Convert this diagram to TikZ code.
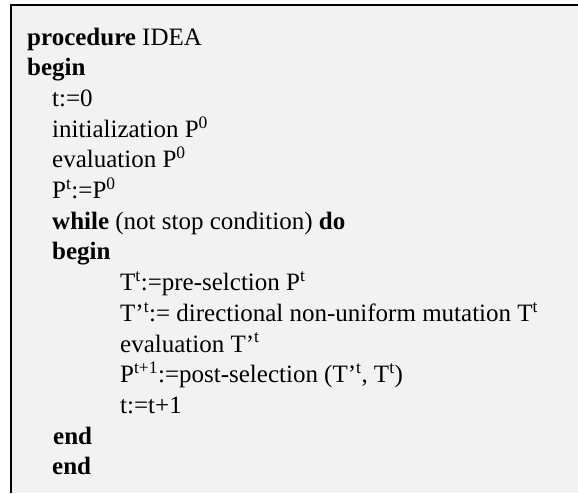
\documentclass[tikz,border=0pt]{standalone}
\usepackage{fontspec}
\setmainfont{Liberation Serif}
\definecolor{panelgray}{HTML}{F2F2F2}
\newcommand{\sps}[1]{\textsuperscript{#1}}
\begin{document}
\begin{tikzpicture}[x=1pt,y=-1pt,
  codeline/.style={anchor=base west,inner sep=0pt,font=\fontsize{25}{30}\selectfont},
  frame/.style={line width=2pt,black}]
\useasboundingbox (0,0) rectangle (578,493);
\fill[white] (0,0) rectangle (578,493);
\fill[panelgray] (11,5) rectangle (578,493);
\draw[frame] (11,493) -- (11,5) -- (578,5);
\def\lh{30.7}
\node[codeline] (l1)  at (27,45+0*\lh)  {\textbf{procedure} IDEA};
\node[codeline] (l2)  at (27,45+1*\lh)  {\textbf{begin}};
\node[codeline] (l3)  at (52,45+2*\lh)  {t:=0};
\node[codeline] (l4)  at (52,45+3*\lh)  {initialization P\sps{0}};
\node[codeline] (l5)  at (52,45+4*\lh)  {evaluation P\sps{0}};
\node[codeline] (l6)  at (52,45+5*\lh)  {P\sps{t}:=P\sps{0}};
\node[codeline] (l7)  at (52,45+6*\lh)  {\textbf{while} (not stop condition) \textbf{do}};
\node[codeline] (l8)  at (52,45+7*\lh)  {\textbf{begin}};
\node[codeline] (l9)  at (120,45+8*\lh) {T\sps{t}:=pre-selction P\sps{t}};
\node[codeline] (l10) at (120,45+9*\lh) {T’\sps{t}:= directional non-uniform mutation T\sps{t}};
\node[codeline] (l11) at (120,45+10*\lh) {evaluation T’\sps{t}};
\node[codeline] (l12) at (120,45+11*\lh) {P\sps{t+1}:=post-selection (T’\sps{t}, T\sps{t})};
\node[codeline] (l13) at (120,45+12*\lh) {t:=t+1};
\node[codeline] (l14) at (53,45+13*\lh) {\textbf{end}};
\node[codeline] (l15) at (52,45+14*\lh) {\textbf{end}};
\end{tikzpicture}
\end{document}
